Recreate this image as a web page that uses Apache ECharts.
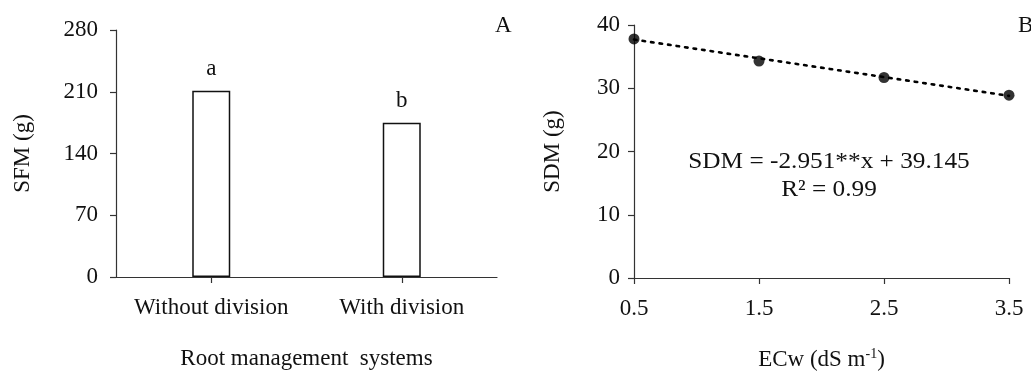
<!DOCTYPE html>
<html><head><meta charset="utf-8">
<script src="https://cdn.jsdelivr.net/npm/echarts@6/dist/echarts.min.js"></script>
<style>html,body{margin:0;padding:0;background:#fff}#c{width:1031px;height:376px}</style>
</head><body><div id="c"></div>
<script>
// Panel A data
const rootCategories = ['Without division', 'With division'];
const sfmValues = [211, 175];
const sfmLetters = ['a', 'b'];
const sfmTicks = [0, 70, 140, 210, 280];
// Panel B data
const ecwCategories = ['0.5', '1.5', '2.5', '3.5'];
const sdmValues = [37.8, 34.3, 31.7, 28.9];
const sdmTrend = [37.7, null, null, 28.8];
const sdmTicks = [0, 10, 20, 30, 40];
const equationText = 'SDM = -2.951**x + 39.145';
const r2Text = 'R² = 0.99';

const FONT = "'Liberation Serif', 'Times New Roman', serif";
const FS = 23;
const AX = '#333';
const TXT = '#111';
const chart = echarts.init(document.getElementById('c'), null, {renderer: 'canvas'});
const axisCommon = {
  axisLine: {show: true, lineStyle: {color: AX, width: 1.2}},
  axisTick: {show: true, inside: false, length: 6, lineStyle: {color: AX, width: 1.2}},
  splitLine: {show: false},
  axisLabel: {color: TXT, fontFamily: FONT, fontSize: FS, interval: 0},
  nameTextStyle: {color: TXT, fontFamily: FONT, fontSize: FS}
};
chart.setOption({
  animation: false,
  backgroundColor: '#fff',
  title: [
    {text: 'A', left: 490, top: 9, textStyle: {fontFamily: FONT, fontSize: FS, fontWeight: 'normal', color: TXT}},
    {text: 'B', left: 1013, top: 9, textStyle: {fontFamily: FONT, fontSize: FS, fontWeight: 'normal', color: TXT}}
  ],
  grid: [
    {left: 116, top: 30, width: 381, height: 247, containLabel: false},
    {left: 634, top: 25, width: 375, height: 258, containLabel: false}
  ],
  xAxis: [
    Object.assign({}, axisCommon, {
      gridIndex: 0, type: 'category', data: rootCategories, boundaryGap: true,
      axisTick: Object.assign({}, axisCommon.axisTick, {alignWithLabel: true}),
      axisLabel: Object.assign({}, axisCommon.axisLabel, {margin: 19}),
      name: 'Root management  systems', nameLocation: 'middle', nameGap: 70
    }),
    Object.assign({}, axisCommon, {
      gridIndex: 1, type: 'category', data: ecwCategories, boundaryGap: false,
      axisLabel: Object.assign({}, axisCommon.axisLabel, {margin: 19}),
      name: 'ECw (dS m{sup|-1})', nameLocation: 'middle', nameGap: 69,
      nameTextStyle: Object.assign({}, axisCommon.nameTextStyle, {
        rich: {sup: {fontFamily: FONT, fontSize: 14, color: TXT, verticalAlign: 'top', padding: [0, 0, 11, 0]}}
      })
    })
  ],
  yAxis: [
    Object.assign({}, axisCommon, {
      gridIndex: 0, type: 'value', min: sfmTicks[0], max: sfmTicks[sfmTicks.length - 1], interval: 70,
      axisLabel: Object.assign({}, axisCommon.axisLabel, {margin: 18}),
      name: 'SFM (g)', nameLocation: 'middle', nameGap: 82
    }),
    Object.assign({}, axisCommon, {
      gridIndex: 1, type: 'value', min: sdmTicks[0], max: sdmTicks[sdmTicks.length - 1], interval: 10,
      axisLabel: Object.assign({}, axisCommon.axisLabel, {margin: 14}),
      name: 'SDM (g)', nameLocation: 'middle', nameGap: 70
    })
  ],
  series: [
    {
      type: 'bar', xAxisIndex: 0, yAxisIndex: 0, data: sfmValues, barWidth: 38,
      itemStyle: {color: '#fff', borderColor: '#111', borderWidth: 1.5},
      label: {show: true, position: 'top', distance: 10, fontFamily: FONT, fontSize: FS, color: TXT,
        formatter: p => sfmLetters[p.dataIndex]}
    },
    {
      type: 'line', xAxisIndex: 1, yAxisIndex: 1, data: sdmTrend, connectNulls: true,
      symbol: 'none', lineStyle: {color: '#000', width: 2.6, type: [2.6, 6], cap: 'round'}, z: 2
    },
    {
      type: 'scatter', xAxisIndex: 1, yAxisIndex: 1, data: sdmValues, symbol: 'circle', symbolSize: 11,
      itemStyle: {color: '#000'}, z: 3
    }
  ],
  graphic: [
    {type: 'text', x: 829, y: 162, scaleX: 1.1, style: {text: equationText, font: FS + "px " + FONT, fill: TXT, align: 'center', verticalAlign: 'middle'}},
    {type: 'text', x: 829, y: 190, scaleX: 1.1, style: {text: r2Text, font: FS + "px " + FONT, fill: TXT, align: 'center', verticalAlign: 'middle'}}
  ]
});
</script></body></html>
